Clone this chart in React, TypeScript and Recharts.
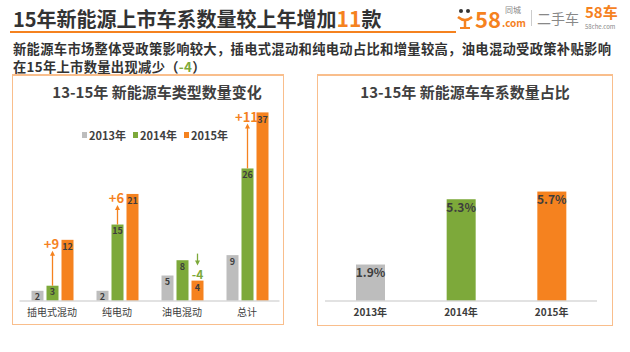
import React from "react";
import { BarChart, Bar, XAxis, YAxis, LabelList } from "recharts";

const categories = ["插电式混动", "纯电动", "油电混动", "总计"];
const series2013 = [2, 2, 5, 9];
const series2014 = [3, 15, 8, 26];
const series2015 = [12, 21, 4, 37];
const yearLabels = ["2013年", "2014年", "2015年"];
const shareValues = [1.9, 5.3, 5.7];

const GRAY = "#BDBDBD";
const GREEN = "#7DA93A";
const ORANGE = "#F5821F";
const DARK = "#3d3d3d";
const BORDER = "#F9BE8C";
const FONT = "'Noto Sans CJK SC', 'Noto Sans', sans-serif";
const COLORS = [GRAY, GREEN, ORANGE];

const typeData = categories.map((c, i) => ({
  name: c,
  y2013: series2013[i],
  y2014: series2014[i],
  y2015: series2015[i],
}));

const shareData = yearLabels.map((y, i) => ({ name: y, v: shareValues[i] }));

const GreenShape = (props: any) => {
  const { x, y, width, height, payload } = props;
  const base = y + height;
  const ppu = height / payload.y2014;
  const orangeTop = base - payload.y2015 * ppu;
  const diff = payload.y2015 - payload.y2014;
  const cx = x + width / 2;
  return (
    <g>
      <rect x={x} y={y} width={width} height={height} fill={GREEN} />
      {diff > 0 && (
        <g>
          <line x1={cx} y1={y} x2={cx} y2={orangeTop + 14} stroke={ORANGE} strokeWidth={1.3} />
          <path
            d={`M${cx - 2.5},${orangeTop + 16} L${cx},${orangeTop + 11} L${cx + 2.5},${orangeTop + 16} Z`}
            fill={ORANGE}
          />
          <text
            x={cx - 1}
            y={orangeTop + 4}
            textAnchor="middle"
            dominantBaseline="central"
            fill={ORANGE}
            fontSize={13}
            fontWeight="bold"
            fontFamily={FONT}
          >
            {"+" + diff}
          </text>
        </g>
      )}
    </g>
  );
};

const OrangeShape = (props: any) => {
  const { x, y, width, height, payload } = props;
  const diff = payload.y2015 - payload.y2014;
  const cx = x + width / 2;
  return (
    <g>
      <rect x={x} y={y} width={width} height={height} fill={ORANGE} />
      {diff < 0 && (
        <g>
          <line x1={cx} y1={y - 27} x2={cx} y2={y - 19} stroke={GREEN} strokeWidth={1.3} />
          <path
            d={`M${cx - 2.5},${y - 20} L${cx},${y - 15} L${cx + 2.5},${y - 20} Z`}
            fill={GREEN}
          />
          <text
            x={cx}
            y={y - 7}
            textAnchor="middle"
            dominantBaseline="central"
            fill={GREEN}
            fontSize={12}
            fontWeight="bold"
            fontFamily={FONT}
          >
            {String(diff)}
          </text>
        </g>
      )}
    </g>
  );
};

const barLabelStyle = { fill: DARK, fontSize: 9, fontWeight: "bold" as const, fontFamily: FONT };

export default function App() {
  return (
    <div
      style={{
        position: "absolute",
        left: 0,
        top: 0,
        width: 630,
        height: 352,
        background: "#fff",
        fontFamily: FONT,
        overflow: "hidden",
      }}
    >
      {/* Header title */}
      <div
        style={{
          position: "absolute",
          left: 13,
          top: 5,
          fontSize: 20,
          fontWeight: "bold",
          color: "#333",
          whiteSpace: "nowrap",
          lineHeight: "26px",
        }}
      >
        15年新能源上市车系数量较上年增加<span style={{ color: ORANGE, fontSize: 21 }}>11</span>款
      </div>
      <div style={{ position: "absolute", left: 10, top: 31, width: 446, height: 2, background: ORANGE }} />

      {/* Logo */}
      <svg style={{ position: "absolute", left: 456, top: 8 }} width={20} height={22}>
        <circle cx={5} cy={3} r={2} fill="#333" />
        <circle cx={12} cy={3} r={2} fill="#333" />
        <path d="M2,9 Q9,15 16,9" stroke={ORANGE} strokeWidth={2.5} fill="none" />
        <line x1={9} y1={13} x2={9} y2={20} stroke={ORANGE} strokeWidth={2.5} />
        <line x1={4} y1={20} x2={14} y2={20} stroke={ORANGE} strokeWidth={2} />
      </svg>
      <div
        style={{
          position: "absolute",
          left: 475,
          top: 6,
          fontSize: 22,
          fontWeight: "bold",
          color: ORANGE,
          lineHeight: "24px",
        }}
      >
        58
      </div>
      <div style={{ position: "absolute", left: 505, top: 5, fontSize: 8, color: "#888", lineHeight: "10px" }}>同城</div>
      <div
        style={{
          position: "absolute",
          left: 502,
          top: 17,
          fontSize: 10,
          fontWeight: "bold",
          color: ORANGE,
          lineHeight: "11px",
        }}
      >
        .com
      </div>
      <div style={{ position: "absolute", left: 531, top: 10, width: 1, height: 16, background: "#ccc" }} />
      <div style={{ position: "absolute", left: 537, top: 8, fontSize: 14, color: "#888", lineHeight: "20px" }}>
        二手车
      </div>
      <div
        style={{
          position: "absolute",
          left: 585,
          top: 4,
          fontSize: 15,
          fontWeight: "bold",
          color: ORANGE,
          lineHeight: "16px",
        }}
      >
        58车
      </div>
      <div style={{ position: "absolute", left: 585, top: 23, fontSize: 6, color: "#888", lineHeight: "7px" }}>
        58che.com
      </div>

      {/* Subtitle */}
      <div
        style={{
          position: "absolute",
          left: 13,
          top: 40,
          fontSize: 13.3,
          fontWeight: "bold",
          color: "#333",
          lineHeight: "18px",
          whiteSpace: "nowrap",
          letterSpacing: 0.3,
        }}
      >
        <div>新能源车市场整体受政策影响较大，插电式混动和纯电动占比和增量较高，油电混动受政策补贴影响</div>
        <div>
          在15年上市数量出现减少（<span style={{ color: GREEN }}>-4</span>）
        </div>
      </div>

      {/* Panels */}
      <div
        style={{
          position: "absolute",
          left: 12,
          top: 75,
          width: 272,
          height: 250,
          border: `1.5px solid ${BORDER}`,
          borderTop: "none",
          boxSizing: "border-box",
        }}
      />
      <div
        style={{
          position: "absolute",
          left: 317,
          top: 75,
          width: 296,
          height: 251,
          border: `1.5px solid ${BORDER}`,
          borderTop: "none",
          boxSizing: "border-box",
        }}
      />
      <div style={{ position: "absolute", left: 12, top: 74, width: 272, height: 1.5, background: BORDER }} />
      <div style={{ position: "absolute", left: 317, top: 74, width: 296, height: 1.5, background: BORDER }} />

      {/* Left chart title */}
      <div
        style={{
          position: "absolute",
          left: 12,
          width: 290,
          top: 82,
          textAlign: "center",
          fontSize: 15,
          fontWeight: "bold",
          color: "#404040",
          lineHeight: "20px",
        }}
      >
        13-15年 新能源车类型数量变化
      </div>

      {/* Left legend */}
      <div
        style={{
          position: "absolute",
          left: 82,
          top: 127,
          display: "flex",
          alignItems: "center",
          fontSize: 11,
          fontWeight: "bold",
          color: "#404040",
          lineHeight: "16px",
        }}
      >
        {yearLabels.map((y, i) => (
          <div key={y} style={{ display: "flex", alignItems: "center", marginRight: 7 }}>
            <div style={{ width: 5, height: 6, background: COLORS[i], marginRight: 2 }} />
            <span>{y}</span>
          </div>
        ))}
      </div>

      <div style={{ position: "absolute", left: 0, top: 75 }}>
        <BarChart
          width={290}
          height={250}
          data={typeData}
          margin={{ top: 17, right: 10.5, bottom: 0, left: 19.5 }}
          barSize={12}
          barGap={3}
        >
          <XAxis
            dataKey="name"
            tickLine={false}
            axisLine={{ stroke: "#d9d9d9", strokeWidth: 1.5 }}
            height={24}
            interval={0}
            tick={{ fill: DARK, fontSize: 10, fontFamily: FONT }}
          />
          <YAxis hide domain={[0, 41]} />
          <Bar dataKey="y2013" name="2013年" fill={GRAY} isAnimationActive={false}>
            <LabelList dataKey="y2013" position="insideTop" offset={3} style={barLabelStyle} />
          </Bar>
          <Bar dataKey="y2014" name="2014年" fill={GREEN} isAnimationActive={false} shape={GreenShape}>
            <LabelList dataKey="y2014" position="insideTop" offset={3} style={barLabelStyle} />
          </Bar>
          <Bar dataKey="y2015" name="2015年" fill={ORANGE} isAnimationActive={false} shape={OrangeShape}>
            <LabelList dataKey="y2015" position="insideTop" offset={4} style={barLabelStyle} />
          </Bar>
        </BarChart>
      </div>

      {/* Right chart title */}
      <div
        style={{
          position: "absolute",
          left: 317,
          width: 296,
          top: 82,
          textAlign: "center",
          fontSize: 15,
          fontWeight: "bold",
          color: "#404040",
          lineHeight: "20px",
        }}
      >
        13-15年 新能源车车系数量占比
      </div>

      <div style={{ position: "absolute", left: 300, top: 75 }}>
        <BarChart
          width={320}
          height={250}
          data={shareData}
          margin={{ top: 34, right: 23, bottom: 0, left: 25 }}
          barSize={29}
        >
          <XAxis
            dataKey="name"
            tickLine={false}
            axisLine={{ stroke: "#d9d9d9", strokeWidth: 1.5 }}
            height={24}
            interval={0}
            tick={{ fill: DARK, fontSize: 10, fontWeight: "bold", fontFamily: FONT }}
          />
          <YAxis hide domain={[0, 10]} />
          <Bar
            dataKey="v"
            isAnimationActive={false}
            shape={(p: any) => (
              <rect x={p.x} y={p.y} width={p.width} height={p.height} fill={COLORS[p.index]} />
            )}
          >
            <LabelList
              dataKey="v"
              position="insideTop"
              offset={4}
              formatter={(v: any) => `${v}%`}
              style={{ fill: DARK, fontSize: 12, fontWeight: "bold", fontFamily: FONT }}
            />
          </Bar>
        </BarChart>
      </div>
    </div>
  );
}
